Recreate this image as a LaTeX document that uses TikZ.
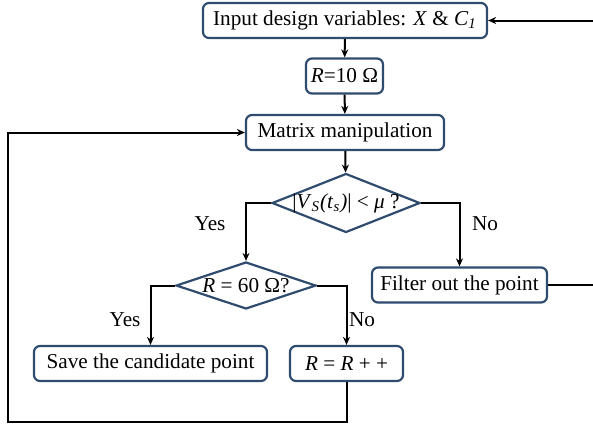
\documentclass[tikz,border=0pt]{standalone}
\usepackage{fontspec}
\setmainfont{Liberation Serif}
\usetikzlibrary{shapes.geometric,arrows.meta}
\definecolor{boxblue}{HTML}{2F4B6E}

\begin{document}
\begin{tikzpicture}[x=0.5pt,y=-0.5pt,
 every node/.style={font=\fontsize{10.6}{12}\selectfont},
 box/.style={draw=boxblue, line width=1.1pt, rounded corners=3pt, fill=white, minimum height=17.5pt, inner sep=1pt},
 choice/.style={draw=boxblue, line width=1.1pt, diamond, inner sep=0pt},
 link/.style={line width=1pt, -{Stealth[length=4pt,width=3.5pt]}}]
\useasboundingbox (0,0) rectangle (593,434);

 \node[box, minimum width=142pt] (in) at (345,20.5) {Input design variables: \textit{X} \& \textit{C}\textsubscript{\textit{1}}};
 \node[box, minimum width=38.5pt] (r10) at (344.5,76) {\textit{R}=10 Ω};
 \node[box, minimum width=99pt] (mm) at (345,132.5) {Matrix manipulation};
 \node[choice, minimum width=74pt, minimum height=29.5pt] (d1) at (346,203) {};
 \node[] (d1txt) at (346,203) {|\textit{V}\textsubscript{\textit{S}}\textit{(t}\textsubscript{\textit{s}}\textit{)}| \textless{} \textit{μ} ?};
 \node[choice, minimum width=70pt, minimum height=23.5pt] (d2) at (246,285.5) {};
 \node[] (d2txt) at (246,285.5) {\textit{R} = 60 Ω?};
 \node[box, minimum width=87.5pt] (filter) at (459.5,285) {Filter out the point};
 \node[box, minimum width=116.5pt] (save) at (150.5,363.5) {Save the candidate point};
 \node[box, minimum width=56.5pt] (rpp) at (346.5,363.5) {\textit{R} = \textit{R} + +};

 \node[] (yes1) at (210,224) {Yes};
 \node[] (no1) at (485,224) {No};
 \node[] (yes2) at (125,320) {Yes};
 \node[] (no2) at (362,320) {No};

 \coordinate (back) at (597,285);
 \coordinate (loop) at (8,422);

 \draw[link] (in) -- (r10);
 \draw[link] (r10) -- (mm);
 \draw[link] (mm) -- (d1);
 \draw[link] (d1.west) -| (d2.north);
 \draw[link] (d1.east) -| (filter.north);
 \draw[link] (d2.west) -| (save.north);
 \draw[link] (d2.east) -| (rpp.north);
 \draw[link] (rpp.south) |- (loop) |- (mm.west);
 \draw[link] (filter.east) -- (back) |- (in.east);
\end{tikzpicture}
\end{document}
